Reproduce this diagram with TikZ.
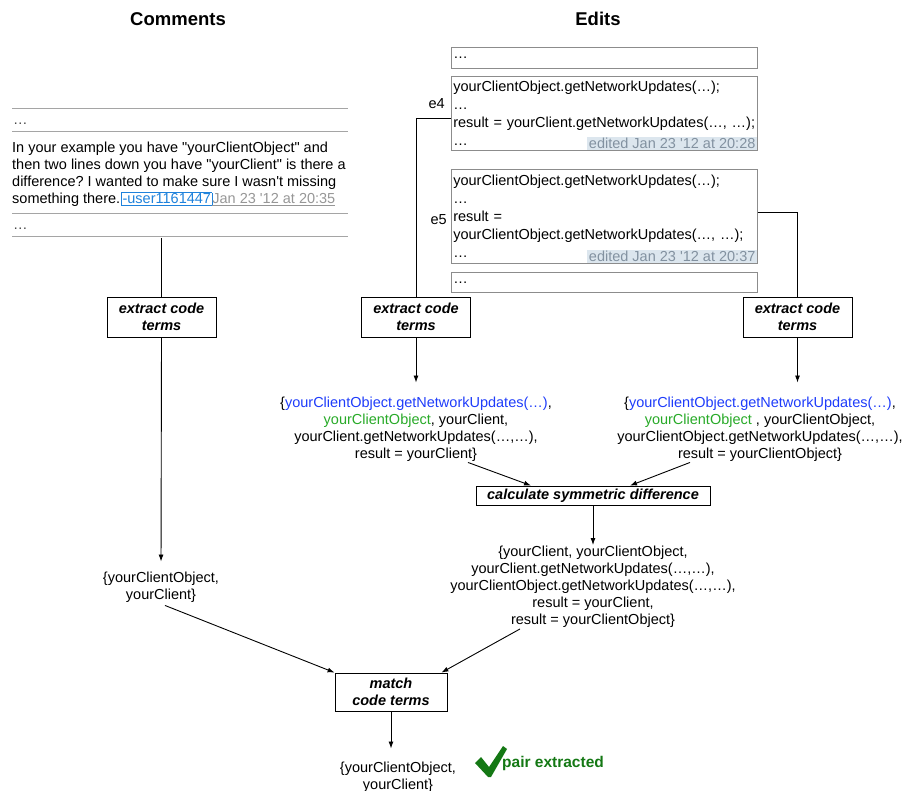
\documentclass[tikz,border=0pt]{standalone}
\usepackage{fontspec}
\setmainfont{Liberation Sans}[Ligatures=TeXOff]
\usetikzlibrary{arrows.meta}
\frenchspacing
\definecolor{codeblue}{RGB}{30,60,250}
\definecolor{codegreen}{RGB}{40,170,40}
\definecolor{userblue}{RGB}{30,130,220}
\definecolor{dategray}{RGB}{150,150,150}
\definecolor{okgreen}{RGB}{20,120,20}
\definecolor{hlbg}{RGB}{220,230,238}
\definecolor{hltext}{RGB}{130,145,160}
\definecolor{rulegray}{RGB}{165,165,165}
\definecolor{edgegray}{RGB}{140,140,140}
\definecolor{dotgray}{RGB}{70,70,70}
\begin{document}
\begin{tikzpicture}[x=1pt,y=-1pt,
  proc/.style={draw, line width=0.8pt, font=\fontsize{14.5}{17}\selectfont\bfseries\itshape, align=center, inner sep=2pt},
  settext/.style={font=\fontsize{14.5}{17}\selectfont, align=center, inner sep=1pt},
  body/.style={font=\fontsize{14.5}{17}\selectfont, inner sep=0pt},
  editbox/.style={draw=edgegray, line width=0.6pt, anchor=north west, minimum width=306pt, text width=302pt, align=left, inner xsep=2pt, inner ysep=1pt, font=\fontsize{14.5}{18}\selectfont},
  hl/.style={fill=hlbg, text=hltext, anchor=south east, inner xsep=1.5pt, inner ysep=1pt, font=\fontsize{14.5}{18}\selectfont},
  arr/.style={-{Latex[length=7pt,width=5pt]}, line width=0.9pt},
  conn/.style={line width=1pt},
  rule/.style={draw=rulegray, line width=0.8pt},
  title/.style={font=\fontsize{18.5}{20}\selectfont\bfseries}
]
\useasboundingbox (0,0) rectangle (905,791);

% titles
\node[title] (tc) at (178,19) {Comments};
\node[title] (te) at (598,19) {Edits};

% comments
\draw[rule] (12,108) -- (348,108);
\draw[rule] (12,131) -- (348,131);
\draw[rule] (12,213) -- (348,213);
\draw[rule] (12,236) -- (348,236);
\node[body, anchor=base west, text=dotgray] (cd1) at (13,125) {…};
\node[body, anchor=base west, text=dotgray] (cd2) at (13,230) {…};
\node[body, anchor=base west] (cl1) at (12,153) {In your example you have "yourClientObject" and};
\node[body, anchor=base west] (cl2) at (12,170) {then two lines down you have "yourClient" is there a};
\node[body, anchor=base west] (cl3) at (12,187) {difference? I wanted to make sure I wasn't missing};
\node[body, anchor=base west] (cl4) at (12,204) {something there.\hspace{1pt}{\setlength{\fboxsep}{1pt}\fcolorbox{userblue}{white}{\textcolor{userblue}{-user1161447}}}\textcolor{dategray}{\underline{Jan 23 '12 at 20:35}}};

% edits
\node[editbox, minimum height=21pt] (eb0) at (451,47) {…};
\node[editbox, minimum height=74pt] (e4) at (451,76) {yourClientObject.getNetworkUpdates(…);\\…\\result = yourClient.getNetworkUpdates(…, …);\\…};
\node[hl] (h4) at ([shift={(-0.5pt,0.5pt)}]e4.south east) {edited Jan 23 '12 at 20:28};
\node[editbox, minimum height=94pt] (e5) at (451,169) {yourClientObject.getNetworkUpdates(…);\\…\\result =\\yourClientObject.getNetworkUpdates(…, …);\\…};
\node[hl] (h5) at ([shift={(-0.5pt,0.5pt)}]e5.south east) {edited Jan 23 '12 at 20:37};
\node[editbox, minimum height=20pt] (eb3) at (451,272) {…};
\node[body, anchor=base east] (l4) at (445,109) {e4};
\node[body, anchor=base east] (l5) at (447,225) {e5};

% process boxes
\node[proc, minimum width=109pt, minimum height=40pt] (ex1) at (161.5,317) {extract code\\terms};
\node[proc, minimum width=109pt, minimum height=40pt] (ex2) at (416,317) {extract code\\terms};
\node[proc, minimum width=109pt, minimum height=40pt] (ex3) at (797.5,317) {extract code\\terms};
\node[proc, minimum width=234pt, minimum height=19pt, inner ysep=1pt] (calc) at (593,495.5) {calculate symmetric difference};
\node[proc, minimum width=112pt, minimum height=38pt] (match) at (391,692) {match\\code terms};

% term sets
\node[settext] (seta) at (416,429) {\{\textcolor{codeblue}{yourClientObject.getNetworkUpdates(…)},\\\textcolor{codegreen}{yourClientObject}, yourClient,\\yourClient.getNetworkUpdates(…,…),\\result = yourClient\}};
\node[settext] (setb) at (760,429) {\{\textcolor{codeblue}{yourClientObject.getNetworkUpdates(…)},\\\textcolor{codegreen}{yourClientObject} , yourClientObject,\\yourClientObject.getNetworkUpdates(…,…),\\result = yourClientObject\}};
\node[settext] (diff) at (593,587) {\{yourClient, yourClientObject,\\yourClient.getNetworkUpdates(…,…),\\yourClientObject.getNetworkUpdates(…,…),\\result = yourClient,\\result = yourClientObject\}};
\node[settext] (lset) at (161,587) {\{yourClientObject,\\yourClient\}};
\node[settext] (fset) at (398,777) {\{yourClientObject,\\yourClient\}};

% check mark and result
\fill[okgreen] (475,763) -- (481,757) -- (489,767) -- (503,746) -- (507,749) -- (491,777) -- (488,777) -- cycle;
\node[font=\fontsize{15.5}{18}\selectfont\bfseries, text=okgreen, anchor=base west, inner sep=0pt] (pe) at (502,767) {pair extracted};

% connectors
\coordinate (cstart) at (161.5,238);
\draw[conn] (cstart) -- (ex1.north);
\draw[arr, shorten >=9pt] (ex1.south) -- (lset.north);
\draw[conn] ([yshift=-5pt]e4.west) -| (ex2.north);
\draw[conn] ([yshift=4pt]e5.east) -| (ex3.north);
\draw[arr, shorten >=13pt] (ex2.south) -- (ex2.south |- seta.north);
\draw[arr, shorten >=13pt] (ex3.south) -- (ex3.south |- setb.north);
\draw[arr] ([xshift=52pt]seta.south) -- ([xshift=-62pt]calc.north);
\draw[arr] ([xshift=-70pt]setb.south) -- ([xshift=37pt]calc.north);
\draw[arr] (calc.south) -- (calc.south |- diff.north);
\draw[arr] ([xshift=4pt,yshift=-2pt]lset.south) -- (match.north west);
\draw[arr] ([xshift=-73pt]diff.south) -- ([xshift=-6pt]match.north east);
\draw[arr, shorten >=12pt] (match.south) -- (match.south |- fset.north);
\end{tikzpicture}
\end{document}
